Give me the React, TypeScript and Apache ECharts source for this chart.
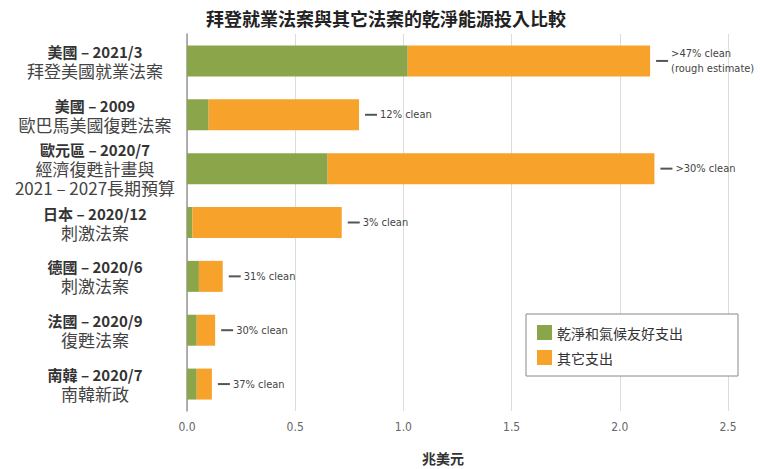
import React, { useEffect, useRef } from "react";
import * as echarts from "echarts";

const categories = ["美國 – 2021/3", "美國 – 2009", "歐元區 – 2020/7", "日本 – 2020/12", "德國 – 2020/6", "法國 – 2020/9", "南韓 – 2020/7"];
const subtitles = ["拜登美國就業法案", "歐巴馬美國復甦法案", "經濟復甦計畫與\n2021 – 2027長期預算", "刺激法案", "刺激法案", "復甦法案", "南韓新政"];
const cleanValues = [1.02, 0.1, 0.65, 0.025, 0.055, 0.045, 0.045];
const otherValues = [1.12, 0.695, 1.51, 0.69, 0.11, 0.085, 0.07];
const notes = [">47% clean\n(rough estimate)", "12% clean", ">30% clean", "3% clean", "31% clean", "30% clean", "37% clean"];
const xTicks = [0, 0.5, 1.0, 1.5, 2.0, 2.5];
const seriesNames = ["乾淨和氣候友好支出", "其它支出"];
const titleText = "拜登就業法案與其它法案的乾淨能源投入比較";
const unitText = "兆美元";

const CJK = "'Noto Sans CJK TC', 'Noto Sans CJK SC', sans-serif";
const NARROW = "'Liberation Sans Narrow', 'DejaVu Sans Condensed', 'Roboto', sans-serif";

export default function App() {
  const ref = useRef<HTMLDivElement>(null);
  useEffect(() => {
    if (!ref.current) return;
    const chart = echarts.init(ref.current, undefined, { renderer: "svg" });
    chart.setOption({
      animation: false,
      backgroundColor: "#ffffff",
      grid: { left: 187, right: 32, top: 34, bottom: 58 },
      graphic: [
        {
          type: "text",
          x: 386,
          y: 18,
          style: { text: titleText, font: `bold 18px ${CJK}`, fill: "#222", align: "center", verticalAlign: "middle" },
        },
        {
          type: "text",
          x: 443,
          y: 458,
          style: { text: unitText, font: `bold 14px ${CJK}`, fill: "#333", align: "center", verticalAlign: "middle" },
        },
      ],
      legend: {
        data: seriesNames,
        orient: "vertical",
        left: 526,
        top: 314,
        backgroundColor: "#ffffff",
        borderColor: "#888",
        borderWidth: 1,
        borderRadius: 0,
        padding: [11, 55, 11, 11],
        itemWidth: 15,
        itemHeight: 15,
        itemGap: 10,
        icon: "rect",
        textStyle: { fontFamily: CJK, fontSize: 14, color: "#333" },
      },
      xAxis: {
        type: "value",
        min: 0,
        max: 2.5,
        interval: 0.5,
        axisLine: { show: false },
        axisTick: { show: false },
        splitLine: { show: true, lineStyle: { color: "#dcdcdc", width: 1 } },
        axisLabel: {
          fontFamily: NARROW,
          fontSize: 12,
          color: "#666",
          margin: 10,
          formatter: (v: number) => (xTicks.includes(v) ? v.toFixed(1) : ""),
        },
      },
      yAxis: {
        type: "category",
        data: categories,
        inverse: true,
        axisLine: { show: true, lineStyle: { color: "#999", width: 1.5 } },
        axisTick: { show: false },
        axisLabel: {
          interval: 0,
          align: "center",
          margin: 92,
          formatter: (v: string, i: number) =>
            `{b|${v}}\n` + subtitles[i].split("\n").map((s) => `{n|${s}}`).join("\n"),
          rich: {
            b: { fontFamily: CJK, fontSize: 15, fontWeight: "bold", color: "#333", lineHeight: 19, align: "center" },
            n: { fontFamily: CJK, fontSize: 17, color: "#444", lineHeight: 19, align: "center" },
          },
        },
      },
      series: [
        {
          name: seriesNames[0],
          type: "bar",
          stack: "total",
          barWidth: 31,
          itemStyle: { color: "#8BA54B" },
          data: cleanValues,
        },
        {
          name: seriesNames[1],
          type: "bar",
          stack: "total",
          barWidth: 31,
          itemStyle: { color: "#F6A22B" },
          data: otherValues,
          label: {
            show: true,
            position: "right",
            distance: 21,
            fontFamily: NARROW,
            fontSize: 11,
            color: "#444",
            lineHeight: 15,
            formatter: (p: any) => notes[p.dataIndex],
          },
        },
        {
          name: "dash",
          type: "bar",
          stack: "total",
          barWidth: 31,
          itemStyle: { color: "transparent" },
          data: categories.map(() => 0),
          silent: true,
          label: {
            show: true,
            position: "right",
            distance: 6,
            formatter: () => "{d|}",
            rich: { d: { backgroundColor: "#555", width: 12, height: 2 } },
          },
        },
      ],
    });
    return () => chart.dispose();
  }, []);
  return (
    <div
      ref={ref}
      style={{ position: "fixed", left: 0, top: 0, width: 760, height: 469 }}
    />
  );
}
